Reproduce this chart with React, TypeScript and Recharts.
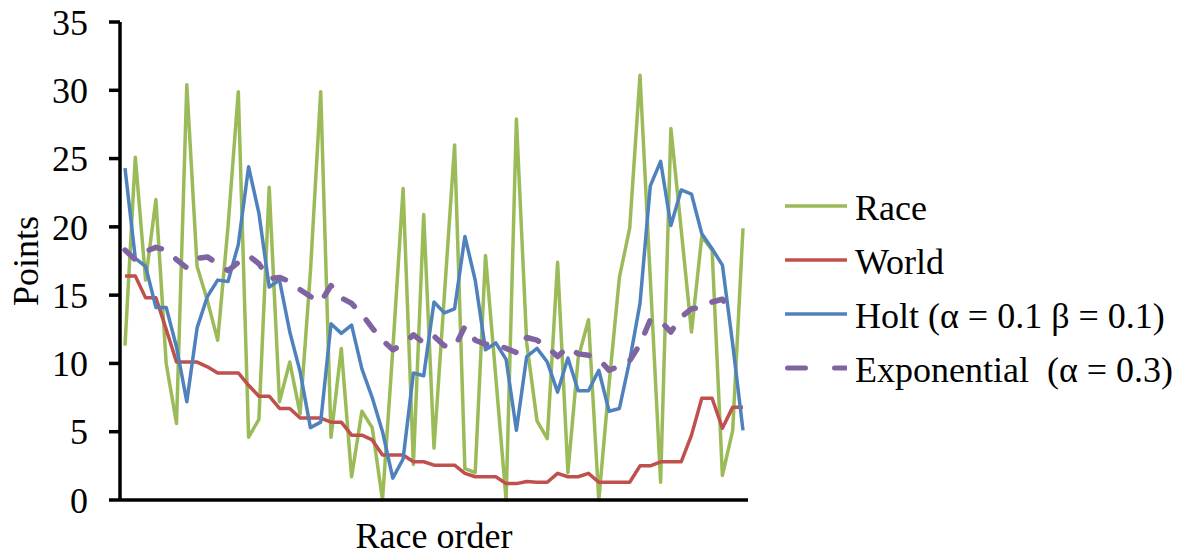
import React from 'react'
import { LineChart, Line, XAxis, YAxis, Legend, Label } from 'recharts'

// ─── Data ─────────────────────────────────────────────────────────────────────

const race = [
  11.3, 25.1, 16.1, 22.0, 10.0, 5.6, 30.4, 17.1, 14.6, 11.7,
  20.0, 29.9, 4.6, 5.9, 22.9, 7.2, 10.1, 6.3, 16.7, 29.9,
  4.6, 11.1, 1.7, 6.5, 5.3, 0, 11.0, 22.8, 2.6, 20.9,
  3.8, 14.9, 26.0, 2.3, 2.0, 17.9, 9.0, 0, 27.9, 11.5,
  5.8, 4.5, 17.4, 2.0, 10.4, 13.2, 0, 8.5, 16.3, 19.9,
  31.1, 16.2, 1.3, 27.2, 19.8, 12.3, 19.3, 18.3, 1.8, 5.1,
  19.9,
]

const world = [
  16.4, 16.4, 14.8, 14.8, 12.5, 10.1, 10.1, 10.1, 9.75, 9.3,
  9.3, 9.3, 8.4, 7.6, 7.6, 6.7, 6.7, 6.0, 6.0, 6.0,
  5.7, 5.7, 4.75, 4.75, 4.4, 3.3, 3.3, 3.3, 2.8, 2.8,
  2.55, 2.55, 2.55, 1.95, 1.7, 1.7, 1.7, 1.2, 1.2, 1.35,
  1.3, 1.3, 1.95, 1.7, 1.7, 1.95, 1.3, 1.3, 1.3, 1.3,
  2.5, 2.5, 2.8, 2.8, 2.8, 4.75, 7.45, 7.45, 5.25, 6.8,
  6.8,
]

const holt = [
  24.3, 17.7, 17.1, 14.1, 14.1, 11.2, 7.2, 12.6, 14.9, 16.1,
  16.0, 18.7, 24.4, 21.0, 15.6, 16.1, 12.3, 9.4, 5.3, 5.7,
  12.9, 12.2, 12.8, 9.6, 7.5, 5.0, 1.6, 3.0, 9.3, 9.1,
  14.5, 13.7, 14.0, 19.3, 16.1, 11.0, 11.5, 10.3, 5.1, 10.5,
  11.1, 10.1, 7.9, 10.4, 8.0, 8.0, 9.5, 6.5, 6.7, 10.2,
  14.4, 23.0, 24.8, 20.1, 22.7, 22.4, 19.5, 18.4, 17.2, 11.4,
  5.1,
]

const exponential = [
  18.3, 17.6, 18.2, 18.5, 18.3, 17.6, 17.0, 17.7, 17.8, 17.3,
  16.8, 17.4, 17.9, 17.3, 16.2, 16.3, 16.0, 15.4, 14.9, 14.5,
  15.7, 14.8, 14.4, 13.6, 12.6, 11.7, 11.0, 11.4, 12.1, 11.5,
  12.0, 11.3, 11.2, 12.7, 11.7, 11.4, 11.4, 11.1, 10.8, 11.9,
  11.7, 11.2, 10.5, 11.2, 10.7, 10.6, 10.3, 9.5, 9.8, 10.2,
  11.4, 13.2, 13.1, 12.3, 13.4, 14.0, 14.1, 14.5, 14.7, 13.7,
  null,
]

const yTicks = [0, 5, 10, 15, 20, 25, 30, 35]

const data = race.map((r, i) => ({
  order: i + 1,
  race: r,
  world: world[i],
  holt: holt[i],
  exponential: exponential[i],
}))

// ─── Styles ───────────────────────────────────────────────────────────────────

const FONT = '"Liberation Serif", "Times New Roman", serif'

const series = [
  { key: 'race', name: 'Race', color: '#9BBB59', width: 3.5, dash: undefined },
  { key: 'world', name: 'World', color: '#C0504D', width: 3.5, dash: undefined },
  { key: 'holt', name: 'Holt (α = 0.1 β = 0.1)', color: '#4F81BD', width: 3.5, dash: undefined },
  { key: 'exponential', name: 'Exponential  (α = 0.3)', color: '#8064A2', width: 5.5, dash: '13 18' },
]

function LegendContent() {
  return (
    <div style={{ fontFamily: FONT, fontSize: 36, color: '#000' }}>
      {series.map((s) => (
        <div key={s.key} style={{ display: 'flex', alignItems: 'center', height: 54, lineHeight: '54px' }}>
          <svg width={62} height={10} style={{ marginRight: 8, marginTop: -4 }}>
            {s.dash ? (
              <line x1={2.5} y1={5} x2={62} y2={5} stroke={s.color} strokeWidth={5}
                strokeDasharray="18 29" strokeLinecap="round" />
            ) : (
              <line x1={0} y1={5} x2={62} y2={5} stroke={s.color} strokeWidth={3.5} />
            )}
          </svg>
          <span style={{ whiteSpace: 'pre' }}>{s.name}</span>
        </div>
      ))}
    </div>
  )
}

// ─── Component ────────────────────────────────────────────────────────────────

export default function App() {
  return (
    <div style={{ position: 'absolute', left: 0, top: 0, background: '#fff' }}>
      <LineChart
        width={1188}
        height={558}
        data={data}
        margin={{ top: 22, right: 440, bottom: 0, left: 0 }}
      >
        <XAxis
          dataKey="order"
          height={58}
          tick={false}
          tickLine={false}
          padding={{ left: 5, right: 5 }}
          axisLine={{ stroke: '#000', strokeWidth: 3.5 }}
        >
          <Label
            content={(props: any) => {
              const vb = props.viewBox || { x: 120, y: 500, width: 628 }
              return (
                <text x={vb.x + vb.width / 2} y={vb.y + 48} textAnchor="middle"
                  fontFamily={FONT} fontSize={36} fill="#000">
                  Race order
                </text>
              )
            }}
          />
        </XAxis>
        <YAxis
          width={120}
          domain={[0, 35]}
          ticks={yTicks}
          interval={0}
          tickSize={11}
          tickMargin={21}
          tickLine={{ stroke: '#000', strokeWidth: 3.5 }}
          axisLine={{ stroke: '#000', strokeWidth: 3.5 }}
          tick={{ fill: '#000', fontSize: 36, fontFamily: FONT }}
        >
          <Label
            content={(props: any) => {
              const vb = props.viewBox || { x: 0, y: 22, height: 478 }
              const cy = vb.y + vb.height / 2
              return (
                <text x={25} y={cy} dy="0.35em" textAnchor="middle" transform={`rotate(-90 25 ${cy})`}
                  fontFamily={FONT} fontSize={36} fill="#000">
                  Points
                </text>
              )
            }}
          />
        </YAxis>
        {series.map((s) => (
          <Line
            key={s.key}
            type="linear"
            dataKey={s.key}
            name={s.name}
            stroke={s.color}
            strokeWidth={s.width}
            strokeDasharray={s.dash}
            strokeLinecap={s.dash ? 'round' : 'butt'}
            strokeLinejoin="round"
            dot={false}
            activeDot={false}
            isAnimationActive={false}
          />
        ))}
        <Legend
          layout="vertical"
          align="center"
          verticalAlign="middle"
          content={() => <LegendContent />}
          wrapperStyle={{ left: 785, top: 181, width: 400 }}
        />
      </LineChart>
    </div>
  )
}
